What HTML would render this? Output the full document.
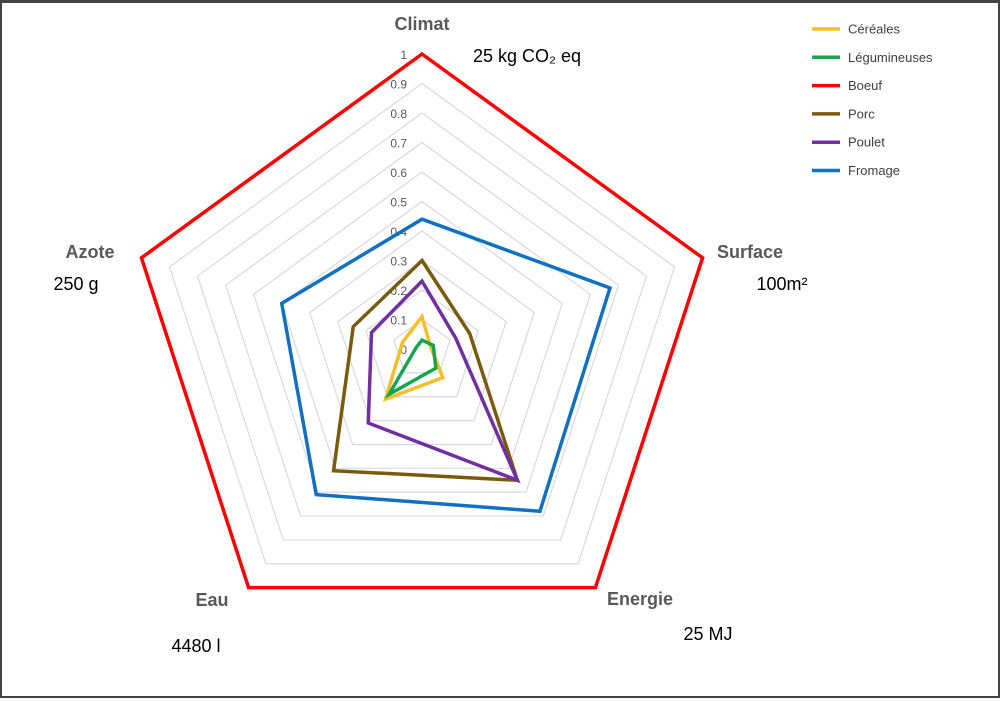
<!DOCTYPE html>
<html><head><meta charset="utf-8"><style>
body{margin:0;background:#fff;}
#c{position:absolute;left:0;top:0;width:1000px;height:698px;box-sizing:border-box;border:2px solid #444;border-top-width:3px;}
svg text{font-family:"Liberation Sans",Arial,sans-serif;}
</style></head><body>
<div id="c">
<svg id="s" width="996" height="693" viewBox="2 3 996 693" xmlns="http://www.w3.org/2000/svg"></svg>
</div>
<script>
const axes = ["Climat","Surface","Energie","Eau","Azote"];
const units = ["25 kg CO₂ eq","100m²","25 MJ","4480 l","250 g"];
const seriesNames = ["Céréales","Légumineuses","Boeuf","Porc","Poulet","Fromage"];
const seriesColors = ["#f5be2a","#17a64f","#ff0000","#7a5a0c","#7030a0","#1170c0"];
const cereales = [0.11,0.03,0.12,0.21,0.07];
const legumineuses = [0.03,0.04,0.08,0.19,0.02];
const boeuf = [1,1,1,1,1];
const porc = [0.30,0.17,0.55,0.51,0.245];
const poulet = [0.23,0.12,0.55,0.31,0.18];
const fromage = [0.44,0.67,0.68,0.61,0.50];
const ticks = [0,0.1,0.2,0.3,0.4,0.5,0.6,0.7,0.8,0.9,1];
const seriesData = [cereales,legumineuses,boeuf,porc,poulet,fromage];

const NS="http://www.w3.org/2000/svg", s=document.getElementById('s');
const cx=422, cy=349, R=295;
function pt(i,v){const a=(90-72*i)*Math.PI/180;return [cx+R*v*Math.cos(a), cy-R*v*Math.sin(a)];}
function mk(t,at){const e=document.createElementNS(NS,t);for(const k in at)e.setAttribute(k,at[k]);s.appendChild(e);return e;}
ticks.forEach((t,j)=>{ if(t===0)return;
  const g=mk('polygon',{points:axes.map((_,i)=>pt(i,t).join(',')).join(' '),fill:'none',stroke:'#d9d9d9','stroke-width':1.2});
  
  
});
ticks.forEach(t=>{const p=pt(0,t);const e=mk('text',{x:p[0]-15,y:p[1]+5,'font-size':12,fill:'#595959','text-anchor':'end'});e.textContent=String(t);
  
  
});
seriesData.forEach((d,k)=>{const e=mk('polygon',{points:d.map((v,i)=>pt(i,v).join(',')).join(' '),fill:'none',stroke:seriesColors[k],'stroke-width':3.5,'stroke-linejoin':'miter'});
  
  
});
const lab=[[422,30,'middle'],[750,258,'middle'],[640,605,'middle'],[212,606,'middle'],[90,258,'middle']];
const un=[[527,62,'middle'],[782,290,'middle'],[708,640,'middle'],[196,652,'middle'],[76,290,'middle']];
axes.forEach((a,i)=>{const e=mk('text',{x:lab[i][0],y:lab[i][1],'font-size':18,'font-weight':'bold',fill:'#595959','text-anchor':lab[i][2]});e.textContent=a;
  
  
  const u=mk('text',{x:un[i][0],y:un[i][1],'font-size':18,fill:'#000','text-anchor':un[i][2]});u.textContent=units[i];
  
  
});
seriesNames.forEach((n,k)=>{const y=29+28.3*k;
  const l=mk('line',{x1:812,y1:y,x2:840,y2:y,stroke:seriesColors[k],'stroke-width':3.5});
  
  
  const t=mk('text',{x:848,y:y+4.5,'font-size':13,fill:'#404040'});t.textContent=n;
  
  
});
</script>
</body></html>
